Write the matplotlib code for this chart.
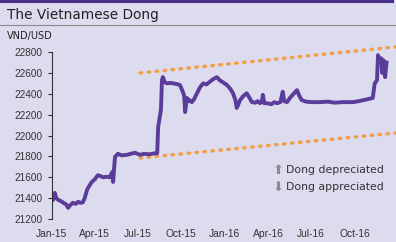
import pandas as pd
import matplotlib
matplotlib.use("Agg")
import matplotlib.pyplot as plt
import matplotlib.dates as mdates

# VND per USD
dates = ["2015-01-01", "2015-01-03", "2015-01-05", "2015-01-07", "2015-01-10", "2015-01-14",
         "2015-01-18", "2015-01-22", "2015-01-27", "2015-01-31", "2015-02-04", "2015-02-08",
         "2015-02-14", "2015-02-20", "2015-02-25", "2015-03-02", "2015-03-07", "2015-03-11",
         "2015-03-16", "2015-03-21", "2015-03-26", "2015-04-01", "2015-04-08", "2015-04-14",
         "2015-04-19", "2015-04-26", "2015-05-03", "2015-05-06", "2015-05-08", "2015-05-10",
         "2015-05-12", "2015-05-14", "2015-05-20", "2015-05-28", "2015-06-08", "2015-06-16",
         "2015-06-25", "2015-07-06", "2015-07-15", "2015-07-25", "2015-08-06", "2015-08-11",
         "2015-08-13", "2015-08-19", "2015-08-21", "2015-08-23", "2015-08-27", "2015-09-01",
         "2015-09-07", "2015-09-13", "2015-09-20", "2015-09-28", "2015-10-04", "2015-10-07",
         "2015-10-09", "2015-10-11", "2015-10-13", "2015-10-16", "2015-10-18", "2015-10-23",
         "2015-10-28", "2015-11-03", "2015-11-09", "2015-11-16", "2015-11-23", "2015-11-30",
         "2015-12-07", "2015-12-15", "2015-12-21", "2015-12-28", "2016-01-05", "2016-01-12",
         "2016-01-18", "2016-01-23", "2016-01-26", "2016-02-02", "2016-02-09", "2016-02-16",
         "2016-02-22", "2016-02-27", "2016-03-05", "2016-03-10", "2016-03-15", "2016-03-19",
         "2016-03-21", "2016-03-24", "2016-03-30", "2016-04-08", "2016-04-14", "2016-04-20",
         "2016-04-27", "2016-05-02", "2016-05-05", "2016-05-11", "2016-05-17", "2016-05-23",
         "2016-06-01", "2016-06-06", "2016-06-11", "2016-06-20", "2016-07-01", "2016-07-19",
         "2016-08-05", "2016-08-20", "2016-09-05", "2016-09-27", "2016-10-10", "2016-10-25",
         "2016-11-08", "2016-11-12", "2016-11-17", "2016-11-19", "2016-11-23", "2016-11-26",
         "2016-11-28", "2016-12-01", "2016-12-04", "2016-12-07"]
rates = [21400, 21380, 21440, 21450, 21400, 21384,
         21375, 21365, 21350, 21340, 21307, 21330,
         21355, 21345, 21365, 21355, 21360, 21400,
         21480, 21520, 21555, 21580, 21620, 21610,
         21600, 21605, 21600, 21630, 21650, 21555,
         21680, 21795, 21825, 21810, 21815, 21825,
         21835, 21815, 21825, 21820, 21830, 21830,
         22080, 22250, 22530, 22560, 22510, 22500,
         22505, 22500, 22495, 22485, 22420, 22380,
         22225, 22300, 22360, 22330, 22340, 22320,
         22350, 22405, 22460, 22500, 22490, 22515,
         22540, 22560, 22530, 22510, 22485, 22450,
         22405, 22340, 22265, 22340, 22380, 22405,
         22360, 22320, 22315, 22330, 22310, 22325,
         22390, 22310, 22310, 22300, 22320, 22310,
         22320, 22420, 22330, 22320, 22360, 22390,
         22435, 22380, 22340, 22325, 22320, 22320,
         22325, 22315, 22320, 22320, 22330, 22345,
         22360, 22500, 22530, 22770, 22705, 22740,
         22600, 22720, 22560, 22700]

# dotted trend channel
trend_dates = ["2015-07-06", "2016-12-27"]
upper_trend = [22600, 22850]
lower_trend = [21785, 22025]

y_ticks = [21200, 21400, 21600, 21800, 22000, 22200, 22400, 22600, 22800]
x_ticks = ["2015-01-01", "2015-04-01", "2015-07-01", "2015-10-01",
           "2016-01-01", "2016-04-01", "2016-07-01", "2016-10-01"]

bg = "#dddbee"
purple = "#5a3c9a"
orange = "#f0a048"

fig = plt.figure(figsize=(3.96, 2.42), dpi=100, facecolor=bg)

# frame: top bar, title, rule
fig.add_artist(plt.Line2D([0, 0.99], [0.995, 0.995], color="#4a2f88", lw=2.2))
fig.text(0.018, 0.94, "The Vietnamese Dong", fontsize=9.8, color="#222222",
         family="DejaVu Sans", va="center", ha="left")
fig.add_artist(plt.Line2D([0, 1], [0.897, 0.897], color="#8a8a8a", lw=0.8))
fig.text(0.018, 0.853, "VND/USD", fontsize=7, color="#222222",
         family="DejaVu Sans", va="center", ha="left")

ax = fig.add_axes([0.1313, 0.095, 0.8687, 0.72])
ax.set_facecolor(bg)

ax.plot(pd.to_datetime(trend_dates), upper_trend, color=orange, lw=2.4,
        linestyle=(0, (0.5, 1.9)), dash_capstyle="round", clip_on=False)
ax.plot(pd.to_datetime(trend_dates), lower_trend, color=orange, lw=2.4,
        linestyle=(0, (0.5, 1.9)), dash_capstyle="round", clip_on=False)
ax.plot(pd.to_datetime(dates), rates, color=purple, lw=2.8, solid_joinstyle="round")

ax.set_xlim(pd.Timestamp("2015-01-01"), pd.Timestamp("2016-12-27"))
ax.set_ylim(21200, 22870)

for s in ["top", "right", "bottom"]:
    ax.spines[s].set_visible(False)
ax.spines["left"].set_bounds(21200, 22800)
ax.spines["left"].set_color("#333333")
ax.spines["left"].set_linewidth(0.8)

ax.set_yticks(y_ticks)
ax.set_xticks(pd.to_datetime(x_ticks))
ax.xaxis.set_major_formatter(mdates.DateFormatter("%b-%y"))
ax.tick_params(axis="y", length=3, width=0.8, color="#333333", labelsize=7.2,
               labelcolor="#333333", pad=4)
ax.tick_params(axis="x", length=0, labelsize=7.4, labelcolor="#333333", pad=7)
for lab in ax.get_xticklabels() + ax.get_yticklabels():
    lab.set_family("Liberation Sans")

# legend-like notes
fig.text(0.69, 0.297, "\u2b06", fontsize=9.5, color="#8c8c8c", ha="left", va="center",
         family="DejaVu Sans")
fig.text(0.722, 0.297, "Dong depreciated", fontsize=7.8, color="#333333",
         ha="left", va="center", family="DejaVu Sans")
fig.text(0.69, 0.227, "\u2b07", fontsize=9.5, color="#8c8c8c", ha="left", va="center",
         family="DejaVu Sans")
fig.text(0.722, 0.227, "Dong appreciated", fontsize=7.8, color="#333333",
         ha="left", va="center", family="DejaVu Sans")

fig.savefig("out.png", dpi=100, facecolor=bg)
